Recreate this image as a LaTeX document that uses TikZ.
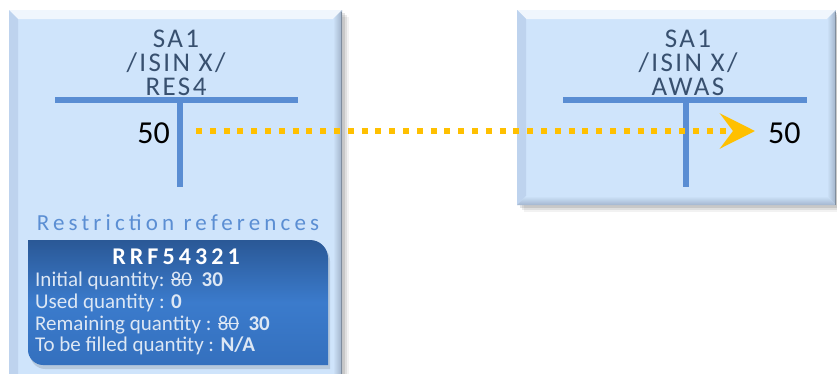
\documentclass[tikz,border=0pt]{standalone}
\usepackage{fontspec}
\setmainfont{Carlito}
\usetikzlibrary{arrows.meta}
\newcommand\strk[1]{\setbox0\hbox{#1}\rlap{\rule[0.27em]{\wd0}{0.07em}}\box0}
\definecolor{boxfill}{HTML}{CFE4FB}
\definecolor{boxtop}{HTML}{F0F6FD}
\definecolor{boxleft}{HTML}{BED3EE}
\definecolor{boxright}{HTML}{9FB0C6}
\definecolor{boxbot}{HTML}{A3B6CF}
\definecolor{tbar}{HTML}{5A8DD3}
\definecolor{titlec}{HTML}{38506F}
\definecolor{restr}{HTML}{5B8ED3}
\definecolor{amber}{HTML}{FFC000}
\definecolor{dtop}{HTML}{2A5896}
\definecolor{dmid}{HTML}{3B7BCC}
\definecolor{dbot}{HTML}{3470BE}
\definecolor{ltext}{HTML}{DDE7F4}
\tikzset{
  titletext/.style={inner sep=0pt, anchor=base, text=titlec,
    font=\fontsize{27}{24}\selectfont\addfontfeature{LetterSpace=9}},
  numtext/.style={inner sep=0pt, text=black, font=\fontsize{32}{32}\selectfont},
  tbarline/.style={draw=tbar, line width=6pt},
  restrtext/.style={inner sep=0pt, text=restr, font=\fontsize{23}{23}\selectfont\addfontfeature{LetterSpace=18}},
  rrftext/.style={inner sep=0pt, text=white, font=\fontsize{24}{24}\selectfont\bfseries\addfontfeature{LetterSpace=17}},
  qtytext/.style={inner sep=0pt, anchor=base west, text=ltext, font=\fontsize{21}{21}\selectfont},
  dotarrow/.style={draw=amber, line width=6pt, dash pattern=on 6pt off 7.8pt,
    -{Stealth[length=35pt, width=35pt, inset=13pt, fill=amber]}},
}
\newcommand\bevelbox[5]{% x0 y0 x1 y1 bevel
  \foreach \o/\op in {7/0.05,5/0.08,3/0.10}{
    \fill[black, opacity=\op] (#1+\o,#2+\o) rectangle (#3+\o,#4+\o);}
  \fill[boxfill] (#1,#2) rectangle (#3,#4);
  \fill[boxtop] (#1,#2) -- (#3,#2) -- (#3-#5,#2+#5) -- (#1+#5,#2+#5) -- cycle;
  \fill[boxleft] (#1,#2) -- (#1+#5,#2+#5) -- (#1+#5,#4-#5) -- (#1,#4) -- cycle;
  \shade[left color=boxfill, right color=boxright] (#3,#2) -- (#3,#4) -- (#3-#5,#4-#5) -- (#3-#5,#2+#5) -- cycle;
  \shade[top color=boxfill, bottom color=boxbot] (#1,#4) -- (#3,#4) -- (#3-#5,#4-#5) -- (#1+#5,#4-#5) -- cycle;
  \draw[boxright!80!black, line width=1.2pt] (#3-0.6,#2+2) -- (#3-0.6,#4);
}
\begin{document}
\begin{tikzpicture}[x=1pt,y=-1pt]
\useasboundingbox (0,0) rectangle (837,373);
\fill[white] (0,0) rectangle (837,373);
\clip (0,0) rectangle (837,373);
% boxes
\bevelbox{9}{10}{342}{395}{9}
\bevelbox{517}{10}{836}{205}{9}
\node[inner sep=0pt, minimum width=333pt, minimum height=385pt, anchor=north west] (leftbox) at (9,10) {};
\node[inner sep=0pt, minimum width=319pt, minimum height=195pt, anchor=north west] (rightbox) at (517,10) {};
% titles
\node[titletext] (lt1) at (176,47) {SA1};
\node[titletext] (lt2) at (176,71) {/ISIN X/};
\node[titletext] (lt3) at (176,95) {RES4};
\node[titletext] (rt1) at (688,47) {SA1};
\node[titletext] (rt2) at (688,71) {/ISIN X/};
\node[titletext] (rt3) at (688,95) {AWAS};
% T accounts
\coordinate (lta) at (55,100); \coordinate (ltb) at (298,100);
\coordinate (ltc) at (180,100); \coordinate (ltd) at (180,187);
\draw[tbarline] (lta) -- (ltb); \draw[tbarline] (ltc) -- (ltd);
\coordinate (rta) at (563,100); \coordinate (rtb) at (807,100);
\coordinate (rtc) at (686,100); \coordinate (rtd) at (686,187);
\draw[tbarline] (rta) -- (rtb); \draw[tbarline] (rtc) -- (rtd);
% amounts
\node[numtext, anchor=east] (l50) at (170,133) {50};
\node[numtext, anchor=west] (r50) at (768,133) {50};
\draw[dotarrow, shorten <=26pt, shorten >=13pt] ([yshift=2pt]l50.east) -- ([yshift=2pt]r50.west);
% restriction references
\node[restrtext, anchor=base] (restr) at (178,230) {Restriction references};
\fill[black, opacity=0.12] (30,243) -- (311,243) .. controls (321,243) and (330,251) .. (330,261) -- (330,369) -- (45,369) .. controls (37,369) and (30,362) .. (30,354) -- cycle;
\shade[top color=dtop, bottom color=dbot, middle color=dmid] (28,240) -- (310,240) .. controls (320,240) and (328,248) .. (328,258) -- (328,365) -- (43,365) .. controls (35,365) and (28,358) .. (28,350) -- cycle;
\node[rrftext, anchor=base] (rrf) at (176,264) {RRF54321};
\node[qtytext] (q1) at (35,286) {Initial quantity: \strk{80}~~\textbf{30}};
\node[qtytext] (q2) at (35,308) {Used quantity : \textbf{0}};
\node[qtytext] (q3) at (35,330) {Remaining quantity : \strk{80}~~\textbf{30}};
\node[qtytext] (q4) at (35,351) {To be filled quantity : \textbf{N/A}};
\end{tikzpicture}
\end{document}
